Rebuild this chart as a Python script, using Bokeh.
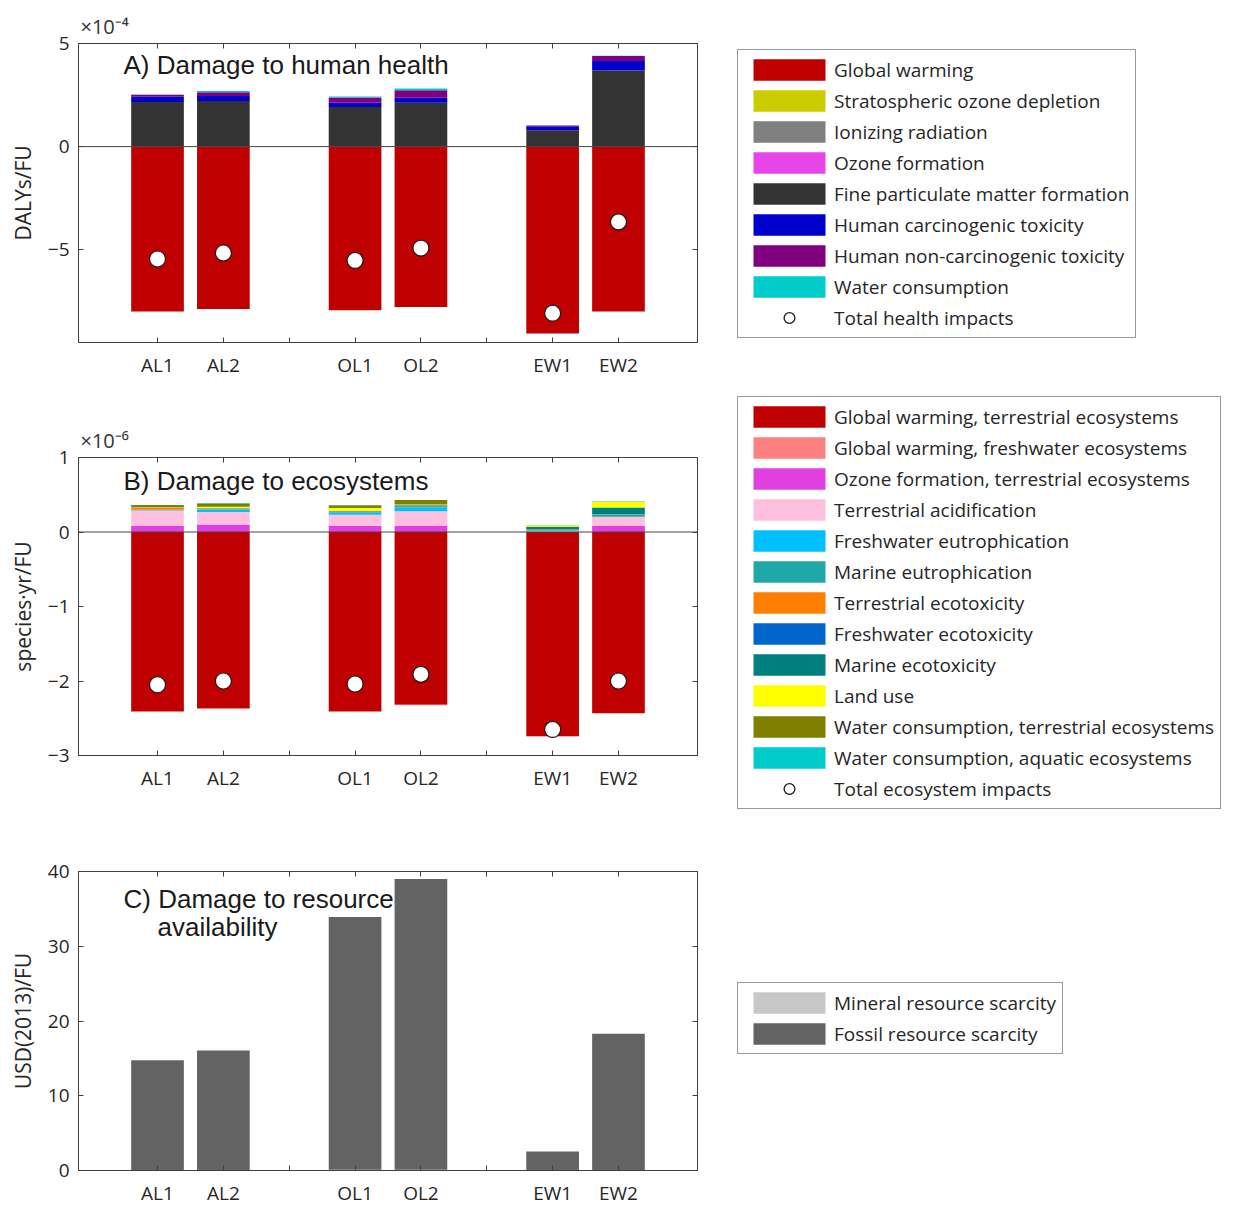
import numpy as np
from bokeh.plotting import figure
from bokeh.models import Range1d, FixedTicker, LinearAxis, Span, Label, Legend, LegendItem
from bokeh.layouts import column, row
from bokeh.embed import file_html
from bokeh.resources import INLINE

# ---------------- data ----------------
scenarios = ["AL1", "AL2", "OL1", "OL2", "EW1", "EW2"]

# A) human health, units of 1e-4 DALYs/FU
hh_labels = ["Global warming", "Stratospheric ozone depletion", "Ionizing radiation",
             "Ozone formation", "Fine particulate matter formation",
             "Human carcinogenic toxicity", "Human non-carcinogenic toxicity",
             "Water consumption"]
hh_colors = ["#C00000", "#CCCC00", "#808080", "#E845E8", "#333333", "#0000CC", "#800080", "#00CCCC"]
hh_global_warming = [-8.00, -7.87, -7.94, -7.78, -9.06, -8.00]
hh_strat_ozone = [0.004, 0.004, 0.004, 0.004, 0.003, 0.005]
hh_ionizing = [0.003, 0.003, 0.003, 0.003, 0.002, 0.003]
hh_ozone_form = [0.005, 0.005, 0.005, 0.005, 0.003, 0.005]
hh_fine_pm = [2.15, 2.20, 1.91, 2.12, 0.78, 3.68]
hh_carcinogenic = [0.25, 0.24, 0.20, 0.24, 0.20, 0.46]
hh_noncarcinogenic = [0.10, 0.18, 0.26, 0.36, 0.03, 0.24]
hh_water = [0.01, 0.06, 0.05, 0.08, 0.01, 0.01]
hh_total = [-5.45, -5.16, -5.52, -4.92, -8.08, -3.65]

# B) ecosystems, units of 1e-6 species.yr/FU
eco_labels = ["Global warming, terrestrial ecosystems", "Global warming, freshwater ecosystems",
              "Ozone formation, terrestrial ecosystems", "Terrestrial acidification",
              "Freshwater eutrophication", "Marine eutrophication", "Terrestrial ecotoxicity",
              "Freshwater ecotoxicity", "Marine ecotoxicity", "Land use",
              "Water consumption, terrestrial ecosystems", "Water consumption, aquatic ecosystems"]
eco_colors = ["#C00000", "#FF8080", "#E040E0", "#FFC0E0", "#00C0FF", "#20A8A8",
              "#FF8000", "#0066CC", "#007F7F", "#FFFF00", "#808000", "#00CCCC"]
eco_gw_terr = [-2.41, -2.37, -2.41, -2.32, -2.74, -2.43]
eco_gw_fresh = [-0.005, -0.005, -0.005, -0.005, -0.006, -0.005]
eco_ozone = [0.08, 0.10, 0.08, 0.08, 0.005, 0.08]
eco_acid = [0.21, 0.17, 0.15, 0.20, 0.01, 0.12]
eco_fw_eutro = [0.005, 0.03, 0.035, 0.05, 0.005, 0.005]
eco_mar_eutro = [0.002, 0.005, 0.005, 0.005, 0.01, 0.03]
eco_terr_ecotox = [0.03, 0.005, 0.005, 0.005, 0.002, 0.003]
eco_fw_ecotox = [0.002, 0.003, 0.003, 0.003, 0.003, 0.005]
eco_mar_ecotox = [0.003, 0.005, 0.005, 0.015, 0.035, 0.085]
eco_land = [0.005, 0.02, 0.04, 0.01, 0.02, 0.075]
eco_water_terr = [0.025, 0.045, 0.035, 0.06, 0.002, 0.003]
eco_water_aq = [0.002, 0.005, 0.003, 0.003, 0.002, 0.002]
eco_total = [-2.05, -2.00, -2.04, -1.91, -2.65, -2.00]

# C) resources, USD(2013)/FU
res_labels = ["Mineral resource scarcity", "Fossil resource scarcity"]
res_colors = ["#C8C8C8", "#636363"]
res_mineral = [0.05, 0.05, 0.10, 0.10, 0.03, 0.08]
res_fossil = [14.7, 16.0, 33.8, 38.9, 2.5, 18.2]

# ---------------- helpers ----------------
n = len(scenarios)
xpos = np.array([i + i // 2 + 1 for i in range(n)], dtype=float)   # groups of two with a gap
tick_pos = list(range(1, int(xpos.max()) + 1))
overrides = {t: "" for t in tick_pos}
for x, s in zip(xpos, scenarios):
    overrides[int(x)] = s

FONT = "Open Sans"
TXT = "#262626"
AX = "#404040"
LEFT_B = 78
RIGHT_B = 30
MAIN_W = LEFT_B + 619 + RIGHT_B
LEG_W = 1226 - MAIN_W


def stack(series):
    pos = np.zeros(n)
    neg = np.zeros(n)
    out = []
    for s in series:
        s = np.asarray(s, dtype=float)
        bottom = np.where(s >= 0, pos, neg)
        top = bottom + s
        pos = np.where(s >= 0, top, pos)
        neg = np.where(s < 0, top, neg)
        out.append((bottom, top))
    return out


def style_axis(ax, ticks, labels=True):
    ax.ticker = FixedTicker(ticks=ticks)
    ax.major_tick_in = 5
    ax.major_tick_out = 0
    ax.minor_tick_line_color = None
    ax.axis_line_color = AX
    ax.major_tick_line_color = AX
    ax.major_label_text_font = FONT
    ax.major_label_text_color = TXT
    ax.major_label_text_font_size = "19px"
    ax.major_label_standoff = 9
    if not labels:
        ax.major_label_overrides = {t: "" for t in ticks}
        ax.major_label_standoff = 0


def make_panel(frame_h, top_b, bot_b, yr, yticks, ylabel, mult):
    p = figure(frame_width=619, frame_height=frame_h, min_border_left=LEFT_B,
               min_border_right=RIGHT_B, min_border_top=top_b, min_border_bottom=bot_b,
               x_range=Range1d(-0.2, 9.2), y_range=Range1d(*yr),
               output_backend="svg", toolbar_location=None, tools="")
    p.xgrid.visible = False
    p.ygrid.visible = False
    p.outline_line_color = AX
    p.outline_line_width = 1
    style_axis(p.xaxis[0], tick_pos)
    p.xaxis[0].major_label_overrides = overrides
    style_axis(p.yaxis[0], yticks)
    p.yaxis[0].axis_label = ylabel
    p.yaxis[0].axis_label_text_font = FONT
    p.yaxis[0].axis_label_text_font_size = "21px"
    p.yaxis[0].axis_label_text_font_style = "normal"
    p.yaxis[0].axis_label_text_color = TXT
    p.yaxis[0].axis_label_standoff = 8
    top_ax = LinearAxis()
    style_axis(top_ax, tick_pos, labels=False)
    p.add_layout(top_ax, "above")
    right_ax = LinearAxis()
    style_axis(right_ax, yticks, labels=False)
    p.add_layout(right_ax, "right")
    if mult:
        p.title.text = mult
        p.title.align = "left"
        p.title.offset = 2
        p.title.text_font = FONT
        p.title.text_font_size = "20px"
        p.title.text_font_style = "normal"
        p.title.text_color = "#333333"
        p.title.standoff = 8
    return p


def add_text(p, x, y, text, size="26px"):
    p.add_layout(Label(x=x, y=y, x_units="screen", y_units="screen", text=text,
                       text_font="Liberation Sans", text_font_size=size, text_color="#1a1a1a",
                       text_baseline="middle", text_align="left"))


def make_legend_fig(height, series_boxes, labels, colors, total_label, loc):
    f = figure(width=LEG_W, height=height, min_border=0, x_axis_type=None, y_axis_type=None,
               x_range=Range1d(-100, -99), y_range=Range1d(-100, -99),
               output_backend="svg", toolbar_location=None, tools="")
    f.frame_align = False
    f.outline_line_color = None
    f.xgrid.visible = False
    f.ygrid.visible = False
    items = []
    for (b, t), lab, col in zip(series_boxes, labels, colors):
        r = f.vbar(x=xpos, bottom=b, top=t, width=0.8, fill_color=col, line_color=None)
        items.append(LegendItem(label=lab, renderers=[r]))
    if total_label:
        r = f.scatter(x=xpos, y=series_boxes[0][1], marker="circle", size=16, fill_color="white",
                      line_color="#1a1a1a", line_width=1.3)
        items.append(LegendItem(label=total_label, renderers=[r]))
    lg = Legend(items=items, location=loc, orientation="vertical",
                glyph_width=90, glyph_height=27, label_height=27, label_standoff=0,
                spacing=4, padding=6, border_line_color="#333333", border_line_width=1,
                background_fill_color="white", background_fill_alpha=1.0,
                label_text_font=FONT, label_text_font_size="19px", label_text_color=TXT)
    f.add_layout(lg)
    return f


# ---------------- panel A ----------------
pA = make_panel(299, 43, 40, (-9.5, 5), [-5, 0, 5], "DALYs/FU", "×10⁻⁴")
hh_series = [hh_global_warming, hh_strat_ozone, hh_ionizing, hh_ozone_form, hh_fine_pm,
             hh_carcinogenic, hh_noncarcinogenic, hh_water]
hh_boxes = stack(hh_series)
for (b, t), col in zip(hh_boxes, hh_colors):
    pA.vbar(x=xpos, bottom=b, top=t, width=0.8, fill_color=col, line_color=None)
pA.add_layout(Span(location=0, dimension="width", line_color="#444444", line_width=1))
pA.scatter(x=xpos, y=hh_total, marker="circle", size=16, fill_color="white",
           line_color="#1a1a1a", line_width=1.2)
add_text(pA, 45, 278, "A) Damage to human health")
lA = make_legend_fig(382, hh_boxes, hh_labels, hh_colors, "Total health impacts", (10, 44))

# ---------------- panel B ----------------
pB = make_panel(298, 75, 60, (-3, 1), [-3, -2, -1, 0, 1], "species·yr/FU", "×10⁻⁶")
eco_series = [eco_gw_terr, eco_gw_fresh, eco_ozone, eco_acid, eco_fw_eutro, eco_mar_eutro,
              eco_terr_ecotox, eco_fw_ecotox, eco_mar_ecotox, eco_land, eco_water_terr, eco_water_aq]
eco_boxes = stack(eco_series)
for (b, t), col in zip(eco_boxes, eco_colors):
    pB.vbar(x=xpos, bottom=b, top=t, width=0.8, fill_color=col, line_color=None)
pB.add_layout(Span(location=0, dimension="width", line_color="#444444", line_width=1))
pB.scatter(x=xpos, y=eco_total, marker="circle", size=16, fill_color="white",
           line_color="#1a1a1a", line_width=1.2)
add_text(pB, 45, 275, "B) Damage to ecosystems")
lB = make_legend_fig(433, eco_boxes, eco_labels, eco_colors, "Total ecosystem impacts", (10, 6))

# ---------------- panel C ----------------
pC = make_panel(299, 56, 36, (0, 40), [0, 10, 20, 30, 40], "USD(2013)/FU", None)
res_boxes = stack([res_mineral, res_fossil])
for (b, t), col in zip(res_boxes, res_colors):
    pC.vbar(x=xpos, bottom=b, top=t, width=0.8, fill_color=col, line_color=None)
add_text(pC, 45, 272, "C) Damage to resource")
add_text(pC, 79, 244, "availability")
lC = make_legend_fig(391, res_boxes, res_labels, res_colors, None, (10, 152))

layout = column(row(pA, lA), row(pB, lB), row(pC, lC), spacing=0)
open("out.html", "w").write(file_html(layout, INLINE))
